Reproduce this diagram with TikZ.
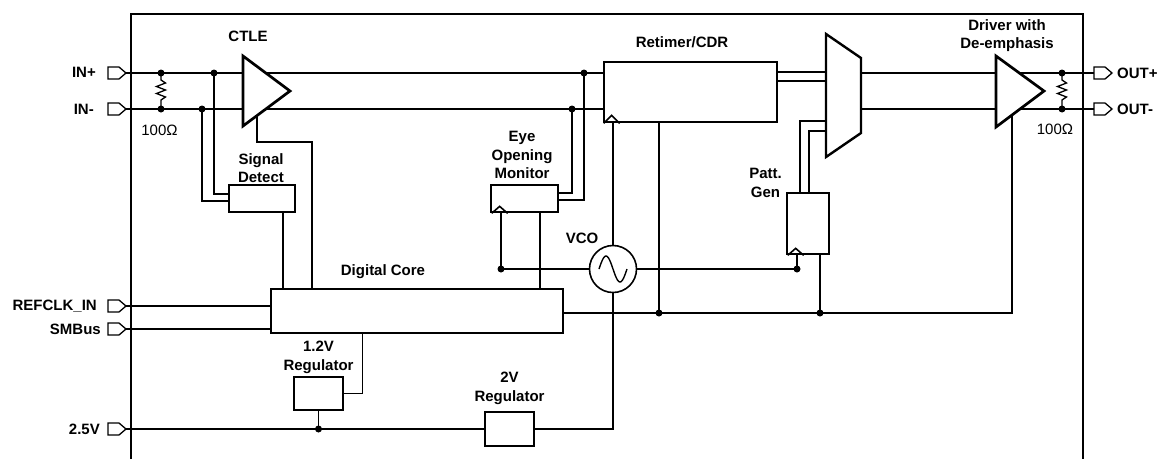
\documentclass[tikz,border=0pt]{standalone}
\usepackage{fontspec}
\setmainfont{Liberation Sans}
\usetikzlibrary{calc}
\begin{document}
\begin{tikzpicture}[x=1pt,y=-1pt,
  wire/.style={line width=1.3pt},
  blk/.style={draw,line width=2.7pt,fill=white,inner sep=0pt},
  lbl/.style={font=\fontsize{15}{18.5}\selectfont\bfseries,align=center,inner sep=0pt},
  val/.style={font=\fontsize{15}{18}\selectfont,inner sep=0pt},
  jn/.style={circle,fill,inner sep=0pt,minimum size=7pt},
  tri/.style={line width=2.7pt,fill=white,line join=miter},
  clk/.style={line width=1.6pt},
  padpin/.pic={\draw[line width=1.3pt,fill=white] (-18,-6) -- (-7,-6) -- (0,0) -- (-7,6) -- (-18,6) -- cycle;},
]
\useasboundingbox (0,0) rectangle (1166,459);

% outer frame
\draw[line width=2pt] (131,459) -- (131,14) -- (1083,14) -- (1083,459);

% boxes
\node[blk,minimum width=66pt,minimum height=27pt] (sd) at (262,198.5) {};
\node[blk,minimum width=67pt,minimum height=27pt] (eom) at (524.5,198.5) {};
\node[blk,minimum width=173pt,minimum height=60pt] (ret) at (690.5,92) {};
\node[blk,minimum width=42pt,minimum height=61pt] (pg) at (808,223.5) {};
\node[blk,minimum width=292pt,minimum height=44pt] (dc) at (417,311) {};
\node[blk,minimum width=49pt,minimum height=33pt] (reg12) at (318.5,393.5) {};
\node[blk,minimum width=49pt,minimum height=34pt] (reg2) at (509.5,429) {};
\node[circle,draw,line width=1.6pt,minimum size=47pt,inner sep=0pt] (vco) at (613,269) {};

% coordinates
\coordinate (inp) at (126,73);
\coordinate (inn) at (126,109);
\coordinate (refclk) at (126,306);
\coordinate (smb) at (126,329);
\coordinate (v25) at (126,429);
\coordinate (outp) at (1095,73);
\coordinate (outn) at (1095,109);
\coordinate (ctA) at (243,56);
\coordinate (ctB) at (243,126);
\coordinate (ctC) at (290,91);
\coordinate (ctb) at (257,115.6);
\coordinate (ct2) at (312,142);
\coordinate (drA) at (996,56);
\coordinate (drB) at (996,127);
\coordinate (drC) at (1044,91);
\coordinate (drvb) at (1012,115);
\coordinate (muxA) at (826,34);
\coordinate (muxB) at (861,58);
\coordinate (muxC) at (861,133);
\coordinate (muxD) at (826,157);
\coordinate (mo1) at (861,73);
\coordinate (mo2) at (861,109);
\coordinate (m1) at (826,121);
\coordinate (m2) at (826,131);
\coordinate (sdo) at ($(sd.south)+(21,0)$);
\coordinate (eomo) at ($(eom.south)+(15.5,0)$);
\coordinate (pgo) at ($(pg.south)+(12,0)$);
\coordinate (pgi1) at ($(pg.north)+(-8,0)$);
\coordinate (pgi2) at ($(pg.north)+(1,0)$);
\coordinate (ro1) at ($(ret.east)+(0,-20)$);
\coordinate (ro2) at ($(ret.east)+(0,-11)$);
\coordinate (dcr) at ($(dc.south west)+(93,0)$);
\coordinate (sdi1) at ($(sd.west)+(0,-4.5)$);
\coordinate (sdi2) at ($(sd.west)+(0,2.5)$);
\coordinate (eomi1) at ($(eom.east)+(0,-5.5)$);
\coordinate (eomi2) at ($(eom.east)+(0,1.5)$);

% junctions
\coordinate (j1) at (161,73);
\coordinate (j2) at (161,109);
\coordinate (j3) at (214,73);
\coordinate (j4) at (202,109);
\coordinate (j5) at (584,73);
\coordinate (j6) at (572,109);
\coordinate (j7) at (501,269);
\coordinate (j8) at (797,269);
\coordinate (j9) at (659,313);
\coordinate (j10) at (820,313);
\coordinate (j11) at (318.5,429);
\coordinate (j12) at (1062,73);
\coordinate (j13) at (1062,109);

% wires
\draw[wire] (inp) -- (j1) -- (j3) -- (j5) -- (inp -| ret.west);
\draw[wire] (inn) -- (j2) -- (j4) -- (j6) -- (inn -| ret.west);
\draw[wire] (j1) -- (161,80) -- (165.5,83) -- (156.5,86.5) -- (165.5,90) -- (156.5,93.5) -- (165.5,97) -- (161,100) -- (j2);
\draw[wire] (j3) |- (sdi1);
\draw[wire] (j4) |- (sdi2);
\draw[wire] (sdo) -- (sdo |- dc.north);
\draw[wire] (ctb) |- (ct2) -- (ct2 |- dc.north);
\draw[wire] (j5) |- (eomi2);
\draw[wire] (j6) |- (eomi1);
\draw[wire] (j7 |- eom.south) -- (j7);
\draw[wire] (eomo) -- (eomo |- dc.north);
\draw[wire] (vco.west) -- (j7);
\draw[wire] (vco.east) -- (j8) -- (j8 |- pg.south);
\draw[wire] (vco.north) -- (vco.north |- ret.south);
\draw[wire] (vco.south) |- (reg2.east);
\draw[wire] (j9 |- ret.south) -- (j9);
\draw[wire] (dc.east |- j9) -- (j9) -- (j10) -- (drvb |- j10) -- (drvb);
\draw[wire] (pgo) -- (j10);
\draw[wire] (ro1) -- (ro1 -| muxA);
\draw[wire] (ro2) -- (ro2 -| muxA);
\draw[wire] (pgi1) |- (m1);
\draw[wire] (pgi2) |- (m2);
\draw[wire] (mo1) -- (j12) -- (outp);
\draw[wire] (mo2) -- (j13) -- (outn);
\draw[wire] (j12) -- (1062,80) -- (1066.5,83) -- (1057.5,86.5) -- (1066.5,90) -- (1057.5,93.5) -- (1066.5,97) -- (1062,100) -- (j13);
\draw[wire] (refclk) -- (refclk -| dc.west);
\draw[wire] (smb) -- (smb -| dc.west);
\draw[wire] (dcr) |- (reg12.east);
\draw[wire] (reg12.south) -- (j11);
\draw[wire] (v25) -- (j11) -- (reg2.west);

% triangles and mux
\draw[tri] (ctA) -- (ctC) -- (ctB) -- cycle;
\draw[tri] (drA) -- (drC) -- (drB) -- cycle;
\draw[line width=2.4pt,fill=white,line join=miter] (muxA) -- (muxB) -- (muxC) -- (muxD) -- cycle;

% clock marks
\draw[clk] ([xshift=1pt]ret.south west) -- ++(8,-8) -- ++(8,8);
\draw[clk] ([xshift=2pt]eom.south west) -- ++(8,-7) -- ++(8,7);
\draw[clk] ([xshift=2pt]pg.south west) -- ++(8,-7) -- ++(8,7);

% VCO sine
\draw[line width=1.4pt,shift={(vco.center)}] plot[domain=-14:14,samples=40,smooth] (\x,{13*sin(\x/14*180)});

% junction dots
\foreach \j in {j1,j2,j3,j4,j5,j6,j7,j8,j9,j10,j11,j12,j13}
  \node[jn] at (\j) {};

% pins
\pic at (inp) {padpin};
\pic at (inn) {padpin};
\pic at (refclk) {padpin};
\pic at (smb) {padpin};
\pic at (v25) {padpin};
\pic at (1112,73) {padpin};
\pic at (1112,109) {padpin};

% labels
\node[lbl,anchor=east] (linp) at (96,72) {IN+};
\node[lbl,anchor=east] (linn) at (94,109) {IN-};
\node[lbl,anchor=east] (lref) at (97,306) {REFCLK\_IN};
\node[lbl,anchor=east] (lsmb) at (101,329) {SMBus};
\node[lbl,anchor=east] (l25) at (100,429) {2.5V};
\node[lbl,anchor=west] (loutp) at (1117,73) {OUT+};
\node[lbl,anchor=west] (loutn) at (1117,109) {OUT-};
\node[val] (r1) at (159.5,130) {100Ω};
\node[val] (r2) at (1055,129) {100Ω};
\node[lbl] (lctle) at (248,36.5) {CTLE};
\node[lbl] (lret) at (682,42) {Retimer/CDR};
\node[lbl] (lsd) at (261,168) {Signal\\Detect};
\node[lbl] (leom) at (522,155) {Eye\\Opening\\Monitor};
\node[lbl] (lpg) at (765.5,183) {Patt.\\Gen};
\node[lbl] (ldrv) at (1007,35.5) {Driver with\\De-emphasis};
\node[lbl] (ldc) at (383,272) {Digital Core};
\node[lbl] (lvco) at (582,238) {VCO};
\node[lbl] (lr12) at (318.5,357.5) {1.2V\\Regulator};
\node[lbl] (lr2) at (509.5,388.5) {2V\\Regulator};
\end{tikzpicture}
\end{document}
